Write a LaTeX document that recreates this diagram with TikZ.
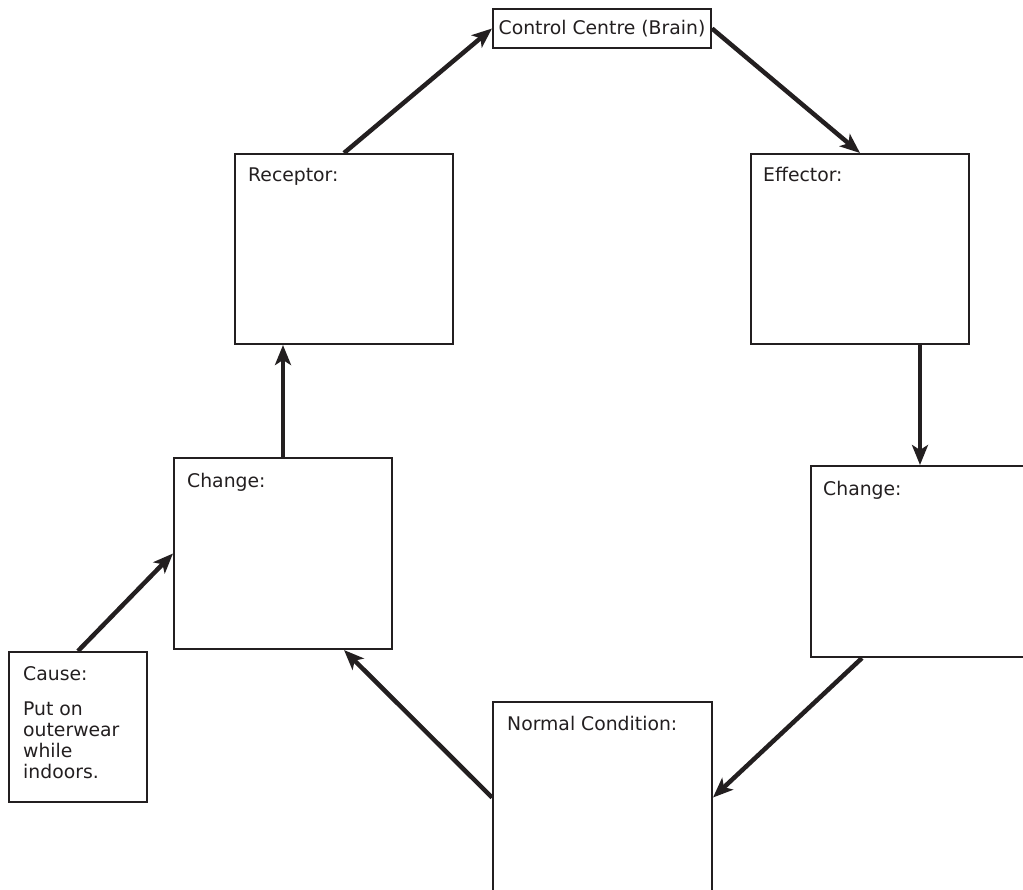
\documentclass[tikz,border=0pt]{standalone}
\usepackage{fontspec}
\setmainfont{DejaVu Sans}
\usetikzlibrary{arrows.meta}
\definecolor{ink}{HTML}{231F20}
\tikzset{
  box/.style={draw=ink, line width=2pt, fill=white, inner sep=0pt, rectangle},
  lbl/.style={inner sep=0pt, anchor=base west, text=ink, font=\fontsize{18.8}{21}\selectfont},
  arr/.style={draw=ink, line width=4.5pt, -{Stealth[length=20pt,width=16pt,inset=5pt]}}
}
\begin{document}
\begin{tikzpicture}[x=1pt,y=-1pt]
\useasboundingbox (0,0) rectangle (1023,890);
\clip (0,0) rectangle (1023,890);
% boxes
\node[box, minimum width=218pt, minimum height=39pt, text=ink, font=\fontsize{18.8}{21}\selectfont] (control) at (602,28.5) {Control Centre (Brain)};
\node[box, minimum width=218pt, minimum height=190pt] (receptor) at (344,249) {};
\node[box, minimum width=218pt, minimum height=190pt] (effector) at (860,249) {};
\node[box, minimum width=218pt, minimum height=191pt] (changeL) at (283,553.5) {};
\node[box, minimum width=218pt, minimum height=191pt] (changeR) at (920,561.5) {};
\node[box, minimum width=219pt, minimum height=191pt] (normal) at (602.5,797.5) {};
\node[box, minimum width=138pt, minimum height=150pt] (cause) at (78,727) {};
% labels
\node[lbl] (receptorT) at (248,182) {Receptor:};
\node[lbl] (effectorT) at (763,182) {Effector:};
\node[lbl] (changeLT) at (187,487) {Change:};
\node[lbl] (changeRT) at (823,495) {Change:};
\node[lbl] (normalT) at (507,730) {Normal Condition:};
\node[lbl] (causeT) at (23,680) {Cause:};
\node[lbl, anchor=north west, align=left] (causeB) at (23,701.5) {Put on\\outerwear\\while\\indoors.};
% arrows
\draw[arr] (receptor.north) -- (control.west);
\draw[arr] (control.east) -- (effector.north);
\draw[arr] (effector.south -| changeR.north) -- (changeR.north);
\draw[arr] ([xshift=52pt]changeR.south west) -- (normal.east);
\draw[arr] (normal.west) -- ([xshift=171pt]changeL.south west);
\draw[arr] (changeL.north) -- (changeL.north |- receptor.south);
\draw[arr] (cause.north) -- (changeL.west);
\end{tikzpicture}
\end{document}
